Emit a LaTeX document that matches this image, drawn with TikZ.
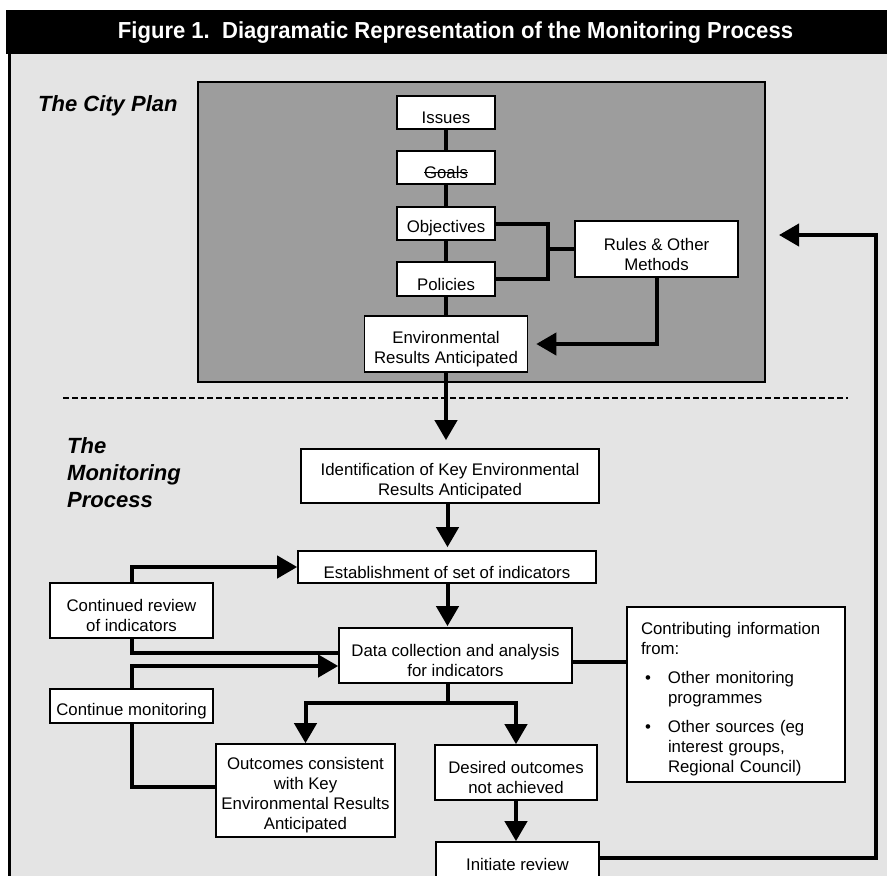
\documentclass[tikz,border=0pt]{standalone}
\usepackage{fontspec}
\setmainfont{Liberation Sans}
\usepackage{graphicx}
\usetikzlibrary{arrows.meta}
\definecolor{pagebg}{RGB}{228,228,228}
\definecolor{plangrey}{RGB}{157,157,157}
\newsavebox{\strikebox}
\newcommand{\strikeword}[1]{\leavevmode\sbox{\strikebox}{#1}\rlap{\rule[0.3em]{\wd\strikebox}{1.4pt}}\usebox{\strikebox}}
\begin{document}
\begin{tikzpicture}[x=1pt,y=-1pt,
  box/.style={draw=black, line width=1.6pt, fill=white, inner sep=0pt},
  btxt/.style={font=\fontsize{16.8}{20}\selectfont, align=center, inner sep=0pt, yshift=-5pt},
  conn/.style={line width=4pt, draw=black},
  arr/.style={conn, -{Triangle[length=20pt,width=22pt]}},
  lab/.style={font=\fontsize{22}{27}\selectfont\bfseries\itshape, inner sep=0pt, align=left}
]
\useasboundingbox (0,0) rectangle (887,876);
% page and frame
\fill[white] (0,0) rectangle (887,876);
\fill[pagebg] (8,54) rectangle (887,876);
\fill[black] (6,10) rectangle (887,54);
\draw[line width=3pt] (9.5,54) -- (9.5,877);
\node[anchor=base, text=white, inner sep=0pt, font=\bfseries] (title) at (455.5,38.5)
  {\resizebox{675pt}{16.8pt}{Figure 1.\ \ Diagramatic Representation of the Monitoring Process}};

% City plan panel
\node[draw=black, line width=2pt, fill=plangrey, minimum width=567pt, minimum height=300pt, inner sep=0pt] (plan) at (481.5,232) {};
\node[lab, anchor=base west] (citylab) at (38,111) {The City Plan};
\node[lab, anchor=north west] (monlab) at (67,437) {The\\Monitoring\\Process};

% dashed divider
\coordinate (dashL) at (63,398);
\coordinate (dashR) at (848,398);
\draw[line width=1.5pt, dash pattern=on 6pt off 3pt] (dashL) -- (dashR);

% city plan boxes
\node[box, minimum width=98pt, minimum height=33pt, label={[btxt]center:{Issues}}] (issues) at (446,112.5) {};
\node[box, minimum width=98pt, minimum height=33pt, label={[btxt]center:{\strikeword{Goals}}}] (goals) at (446,167.5) {};
\node[box, minimum width=98pt, minimum height=33pt, label={[btxt]center:{Objectives}}] (obj) at (446,223.5) {};
\node[box, minimum width=98pt, minimum height=34pt, label={[btxt]center:{Policies}}] (pol) at (446,279) {};
\node[box, minimum width=163pt, minimum height=56pt, label={[btxt]center:{Environmental\\Results Anticipated}}] (env) at (446,344) {};
\node[box, minimum width=163pt, minimum height=56pt, label={[btxt]center:{Rules \& Other\\Methods}}] (rules) at (656.5,249) {};

% monitoring boxes
\node[box, minimum width=298pt, minimum height=54pt, label={[btxt]center:{Identification of Key Environmental\\Results Anticipated}}] (ident) at (450,476) {};
\node[box, minimum width=298pt, minimum height=32pt, label={[btxt]center:{Establishment of set of indicators}}] (estab) at (447,567) {};
\node[box, minimum width=233pt, minimum height=55pt, label={[btxt]center:{Data collection and analysis\\for indicators}}] (data) at (455.5,655.5) {};
\node[box, minimum width=163pt, minimum height=55pt, label={[btxt]center:{Continued review\\of indicators}}] (crev) at (131.5,610.5) {};
\node[box, minimum width=163pt, minimum height=34pt, label={[btxt]center:{Continue monitoring}}] (cmon) at (131.5,706) {};
\node[box, minimum width=179pt, minimum height=93pt, label={[btxt]center:{Outcomes consistent\\with Key\\Environmental Results\\Anticipated}}] (outc) at (305.5,790.5) {};
\node[box, minimum width=162pt, minimum height=55pt, label={[btxt]center:{Desired outcomes\\not achieved}}] (desired) at (516,772.5) {};
\node[box, minimum width=163pt, minimum height=44pt, label={[btxt, yshift=5pt]center:{Initiate review}}] (init) at (517.5,864) {};
\node[box, minimum width=218pt, minimum height=175pt,
  label={[btxt, align=left, text width=190pt]center:{Contributing information\\from:\\[9pt]
   \makebox[27pt][l]{\hspace*{4pt}•}Other monitoring\\
   \hspace*{27pt}programmes\\[9pt]
   \makebox[27pt][l]{\hspace*{4pt}•}Other sources (eg\\
   \hspace*{27pt}interest groups,\\
   \hspace*{27pt}Regional Council)}}] (contrib) at (736,694.5) {};

% city plan connectors
\draw[conn] (issues) -- (goals);
\draw[conn] (goals) -- (obj);
\draw[conn] (obj) -- (pol);
\draw[conn] (pol) -- (env);
\coordinate (brk) at (548,249);
\draw[conn] (obj.east) -| (brk) |- (pol.east);
\draw[conn] (rules.west) -- (brk);
\draw[arr, shorten >=8pt] (rules.south) |- (env.east);

% monitoring connectors
\coordinate (col) at (447.5,0);
\draw[arr, shorten >=8pt] (env.south) -- (env.south |- ident.north);
\draw[arr, shorten >=3pt] (ident.south -| col) -- (col |- estab.north);
\draw[arr, shorten >=1pt] (estab.south -| col) -- (col |- data.north);
\draw[arr] (crev.north) |- (estab.west);
\draw[conn] (crev.south) |- ([yshift=2.5pt]data.west);
\draw[arr] (cmon.north) |- ([yshift=-10.5pt]data.west);
\draw[conn] (cmon.south) |- ([yshift=3.5pt]outc.west);
\coordinate (split) at (447.5,703);
\draw[conn] (data.south -| split) -- (split);
\draw[arr] (split) -| (outc.north);
\draw[arr] (split) -| (desired.north);
\draw[arr] (desired.south) -- (desired.south |- init.north);
\draw[conn] ([yshift=-6.5pt]data.east) -- ([yshift=-6.5pt]data.east -| contrib.west);

% feedback loop
\coordinate (fbc) at (876,235);
\coordinate (fbend) at (779,235);
\draw[arr] ([yshift=6pt]init.east) -| (fbc) -- (fbend);
\end{tikzpicture}
\end{document}
